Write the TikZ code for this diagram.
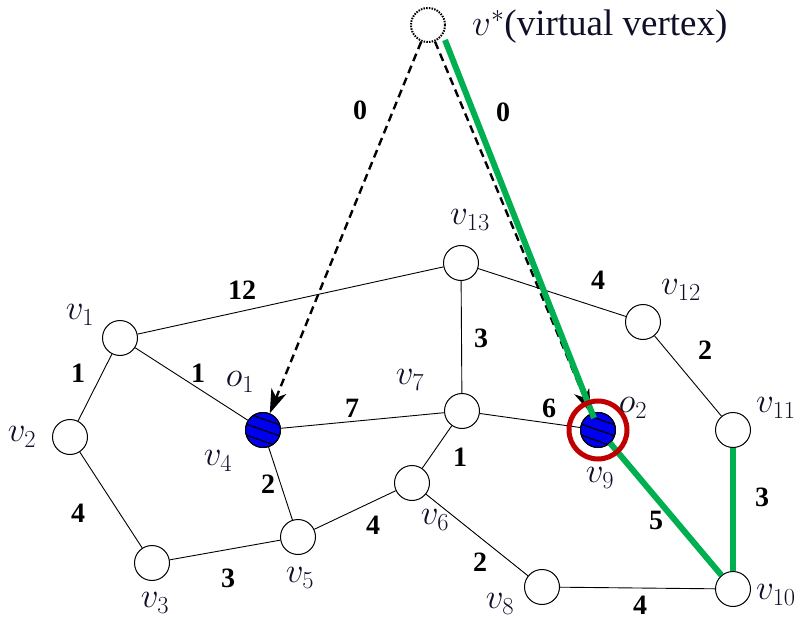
\RequirePackage{fix-cm}
\documentclass[tikz,border=0pt]{standalone}
\usepackage{fontspec}
\setmainfont{Liberation Serif}
\usetikzlibrary{arrows.meta,calc}
\definecolor{pathgreen}{RGB}{0,176,80}
\definecolor{ringred}{RGB}{192,0,0}
\definecolor{objblue}{RGB}{0,0,240}
\definecolor{lblcol}{RGB}{15,15,40}
\begin{document}
\begin{tikzpicture}[x=1pt,y=-1pt,
  vtx/.style={circle,draw,line width=1pt,minimum size=35pt,inner sep=0pt,fill=white},
  vvtx/.style={circle,draw,dash pattern=on 1.5pt off 1.2pt,line width=2pt,minimum size=34pt,inner sep=0pt},
  obj/.style={circle,draw,line width=1pt,minimum size=35pt,inner sep=0pt,fill=objblue},
  edge/.style={line width=0.9pt},
  gpath/.style={line width=6pt,pathgreen},
  darr/.style={line width=2.4pt,dash pattern=on 8pt off 5pt,-{Stealth[length=24pt,width=16pt,inset=7pt]}},
  vlbl/.style={font=\fontsize{35}{40}\selectfont,text=lblcol,inner sep=0pt},
  elbl/.style={font=\fontsize{28}{32}\selectfont\bfseries,inner sep=0pt}]
\useasboundingbox (0,0) rectangle (807,626);

% vertices
\node[vvtx] (vs) at (428,25) {};
\node[vtx] (v1) at (120,338) {};
\node[vtx] (v2) at (70,437) {};
\node[vtx] (v3) at (152,563) {};
\node[obj] (v4) at (263,430) {};
\node[vtx] (v5) at (298,537) {};
\node[vtx] (v6) at (412,483) {};
\node[vtx] (v7) at (462,411) {};
\node[vtx] (v8) at (542,587) {};
\node[obj] (v9) at (598,430) {};
\node[vtx] (v10) at (733,589) {};
\node[vtx] (v11) at (733,430) {};
\node[vtx] (v12) at (643,322) {};
\node[vtx] (v13) at (461,263) {};

% edges
\draw[edge] (v1) -- (v13);
\draw[edge] (v1) -- (v2);
\draw[edge] (v1) -- (v4);
\draw[edge] (v2) -- (v3);
\draw[edge] (v3) -- (v5);
\draw[edge] (v4) -- (v5);
\draw[edge] (v4) -- (v7);
\draw[edge] (v5) -- (v6);
\draw[edge] (v6) -- (v7);
\draw[edge] (v6) -- (v8);
\draw[edge] (v7) -- (v13);
\draw[edge] (v7) -- (v9);
\draw[edge] (v13) -- (v12);
\draw[edge] (v12) -- (v11);
\draw[edge] (v8) -- (v10);

% hatching in objects
\foreach \n in {v4,v9}{
  \begin{scope}
    \clip (\n) circle (17.5pt);
    \foreach \d in {-11,0,11}{
      \draw[line width=1.2pt] ($(\n)+(-20,\d-7)$) -- ($(\n)+(20,\d+7)$);
    }
  \end{scope}
  \draw[line width=1pt] (\n) circle (17.5pt);
}

% dashed arrows
\draw[darr] (vs) -- (v4);
\draw[darr] (vs) -- (v9);

% green path
\coordinate (gs) at (445,40);
\coordinate (g9) at (594,418);
\coordinate (g9b) at (610,443);
\draw[gpath] (gs) -- (g9);
\draw[gpath] (g9b) -- (v10);
\draw[gpath] (v11) -- (v10);

% red ring
\node[circle,draw=ringred,line width=5pt,minimum size=58pt,inner sep=0pt] (ring) at (v9) {};

% vertex labels
\node[vlbl,anchor=west,font=\fontsize{37}{42}\selectfont] (lvs) at (472,27) {$v^*$(virtual vertex)};
\node[vlbl] (l1) at (80,315) {$v_1$};
\node[vlbl] (l2) at (22,437) {$v_2$};
\node[vlbl] (l3) at (155,603) {$v_3$};
\node[vlbl] (l4) at (218,461) {$v_4$};
\node[vlbl] (lo1) at (240,382) {$o_1$};
\node[vlbl] (l5) at (300,578) {$v_5$};
\node[vlbl] (l6) at (435,520) {$v_6$};
\node[vlbl] (l7) at (410,380) {$v_7$};
\node[vlbl] (l8) at (500,604) {$v_8$};
\node[vlbl] (l9) at (600,478) {$v_9$};
\node[vlbl] (lo2) at (633,408) {$o_2$};
\node[vlbl,anchor=west] (l10) at (756,595) {$v_{10}$};
\node[vlbl,anchor=west] (l11) at (756,408) {$v_{11}$};
\node[vlbl] (l12) at (681,290) {$v_{12}$};
\node[vlbl] (l13) at (470,220) {$v_{13}$};

% edge labels
\node[elbl] (e1) at (360,110) {0};
\node[elbl] (e2) at (503,112) {0};
\node[elbl] (e3) at (242,290) {12};
\node[elbl] (e4) at (598,280) {4};
\node[elbl] (e5) at (481,338) {3};
\node[elbl] (e6) at (705,350) {2};
\node[elbl] (e7) at (78,373) {1};
\node[elbl] (e8) at (198,373) {1};
\node[elbl] (e9) at (352,408) {7};
\node[elbl] (e10) at (549,408) {6};
\node[elbl] (e11) at (460,457) {1};
\node[elbl] (e12) at (268,484) {2};
\node[elbl] (e13) at (78,513) {4};
\node[elbl] (e14) at (373,525) {4};
\node[elbl] (e15) at (228,578) {3};
\node[elbl] (e16) at (480,562) {2};
\node[elbl] (e17) at (656,520) {5};
\node[elbl] (e18) at (762,497) {3};
\node[elbl] (e19) at (640,605) {4};
\end{tikzpicture}
\end{document}
